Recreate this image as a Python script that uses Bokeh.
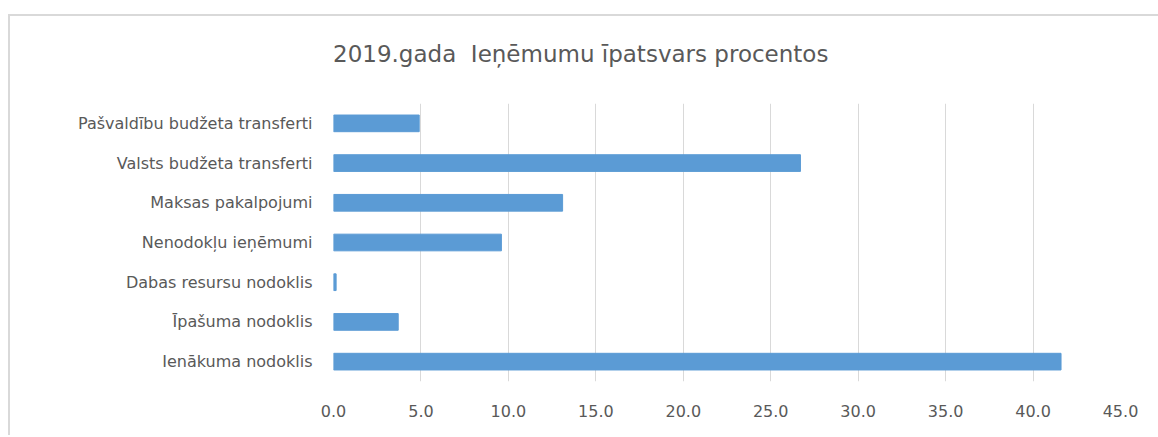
from bokeh.plotting import figure
from bokeh.models import Div, FixedTicker, ColumnDataSource, NumeralTickFormatter
from bokeh.layouts import column
from bokeh.embed import file_html
from bokeh.resources import INLINE

title_text = "2019.gada  Ieņēmumu īpatsvars procentos"
categories = ["Ienākuma nodoklis", "Īpašuma nodoklis", "Dabas resursu nodoklis",
              "Nenodokļu ieņēmumi", "Maksas pakalpojumi", "Valsts budžeta transferti",
              "Pašvaldību budžeta transferti"]
values = [41.6, 3.7, 0.15, 9.6, 13.1, 26.7, 4.9]
x_ticks = [0, 5, 10, 15, 20, 25, 30, 35, 40, 45]

source = ColumnDataSource(dict(cat=categories, val=values))

W = 1148
p = figure(y_range=categories, x_range=(0, 45), width=W, height=332,
           output_backend="svg", toolbar_location=None,
           min_border_left=323, min_border_right=38, min_border_top=0, min_border_bottom=54)

p.hbar(y="cat", right="val", left=0, height=0.42, source=source,
       fill_color="#5B9BD5", line_color="#5B9BD5")

p.outline_line_color = None
p.background_fill_color = "white"
p.border_fill_color = "white"

p.xaxis.ticker = FixedTicker(ticks=x_ticks)
p.xaxis.formatter = NumeralTickFormatter(format="0.0")
p.xaxis.axis_line_color = None
p.xaxis.major_tick_line_color = None
p.xaxis.minor_tick_line_color = None
p.xaxis.major_label_standoff = 17
p.xaxis.major_label_text_font = "DejaVu Sans"
p.xaxis.major_label_text_font_size = "16px"
p.xaxis.major_label_text_color = "#595959"

p.yaxis.axis_line_color = None
p.yaxis.major_tick_line_color = None
p.yaxis.minor_tick_line_color = None
p.yaxis.major_label_standoff = 15
p.yaxis.major_label_text_font = "DejaVu Sans"
p.yaxis.major_label_text_font_size = "16px"
p.yaxis.major_label_text_color = "#595959"

p.xgrid.grid_line_color = "#d9d9d9"
p.xgrid.grid_line_width = 1
p.ygrid.grid_line_color = None

title_div = Div(
    text=('<div style="position:absolute; left:323px; top:25px; font-family:\'DejaVu Sans\'; '
          'font-size:23px; color:#595959; white-space:pre; line-height:27px;">'
          + title_text + '</div>'),
    width=W, height=87, margin=0)

layout = column(title_div, p, spacing=0,
                styles={"margin-top": "14px", "margin-left": "8px", "background": "white",
                        "border-top": "2px solid #d9d9d9", "border-left": "2px solid #d9d9d9"})

open("out.html", "w").write(file_html(layout, INLINE))
